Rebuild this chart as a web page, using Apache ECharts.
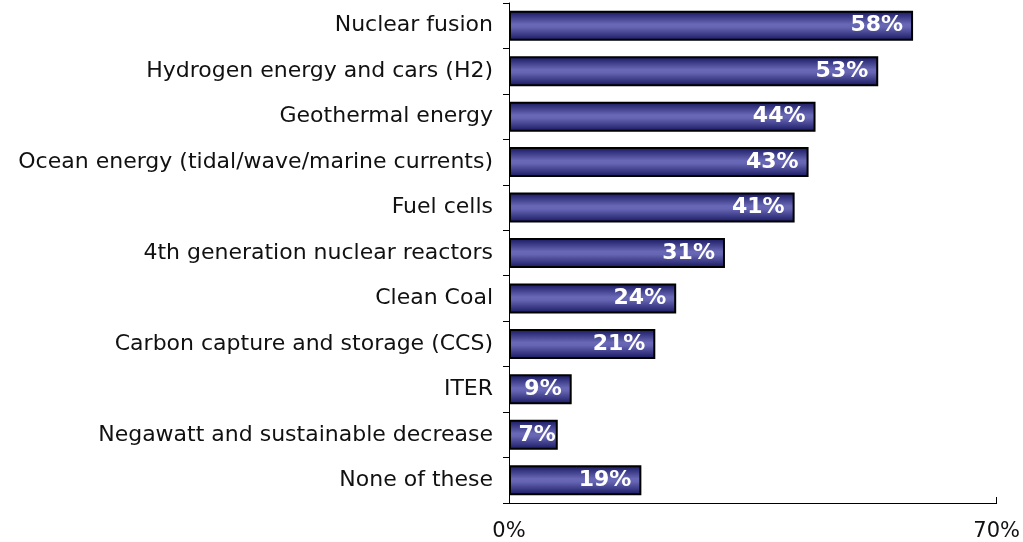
<!DOCTYPE html>
<html>
<head>
<meta charset="utf-8">
<script src="https://cdn.jsdelivr.net/npm/echarts@6/dist/echarts.min.js"></script>
<style>
  html, body { margin: 0; padding: 0; background: #fff; }
  #chart { width: 1023px; height: 542px; }
</style>
</head>
<body>
<div id="chart"></div>
<script>
// Technologies, listed top to bottom
const categories = [
  'Nuclear fusion',
  'Hydrogen energy and cars (H2)',
  'Geothermal energy',
  'Ocean energy (tidal/wave/marine currents)',
  'Fuel cells',
  '4th generation nuclear reactors',
  'Clean Coal',
  'Carbon capture and storage (CCS)',
  'ITER',
  'Negawatt and sustainable decrease',
  'None of these'
];
// Share of respondents (%)
const values = [58, 53, 44, 43, 41, 31, 24, 21, 9, 7, 19];
// Value axis tick labels
const axisTicks = [0, 70];

const chart = echarts.init(document.getElementById('chart'));

const barFill = new echarts.graphic.LinearGradient(0, 0, 0, 1, [
  { offset: 0, color: '#14145e' },
  { offset: 0.45, color: '#6868b6' },
  { offset: 0.55, color: '#6565b3' },
  { offset: 1, color: '#16165f' }
]);

// Very short bars leave no room for the usual end padding,
// so their label hugs the bar end instead.
const barData = values.map(v => ({
  value: v,
  label: { offset: [v < 8 ? 3 : -5, 0] }
}));

chart.setOption({
  animation: false,
  grid: { left: 509, right: 26, top: 3, bottom: 39, containLabel: false },
  xAxis: {
    type: 'value',
    min: axisTicks[0],
    max: axisTicks[axisTicks.length - 1],
    interval: 70,
    axisLine: { show: true, lineStyle: { color: '#000', width: 1 } },
    axisTick: { show: true, inside: true, length: 6, lineStyle: { color: '#000' } },
    splitLine: { show: false },
    axisLabel: {
      formatter: v => v + '%',
      color: '#111',
      fontFamily: 'DejaVu Sans',
      fontSize: 21,
      margin: 18
    }
  },
  yAxis: {
    type: 'category',
    data: categories,
    inverse: true,
    axisLine: { show: true, lineStyle: { color: '#000', width: 1 } },
    axisTick: { show: true, length: 6, lineStyle: { color: '#000' } },
    axisLabel: {
      color: '#111',
      fontFamily: 'DejaVu Sans',
      fontSize: 22,
      margin: 16
    }
  },
  series: [{
    type: 'bar',
    data: barData,
    barCategoryGap: '34%',
    itemStyle: { color: barFill, borderColor: '#000', borderWidth: 2 },
    label: {
      show: true,
      position: 'insideRight',
      formatter: p => p.value + '%',
      color: '#fff',
      fontFamily: 'DejaVu Sans',
      fontWeight: 'bold',
      fontSize: 22
    }
  }]
});
</script>
</body>
</html>
